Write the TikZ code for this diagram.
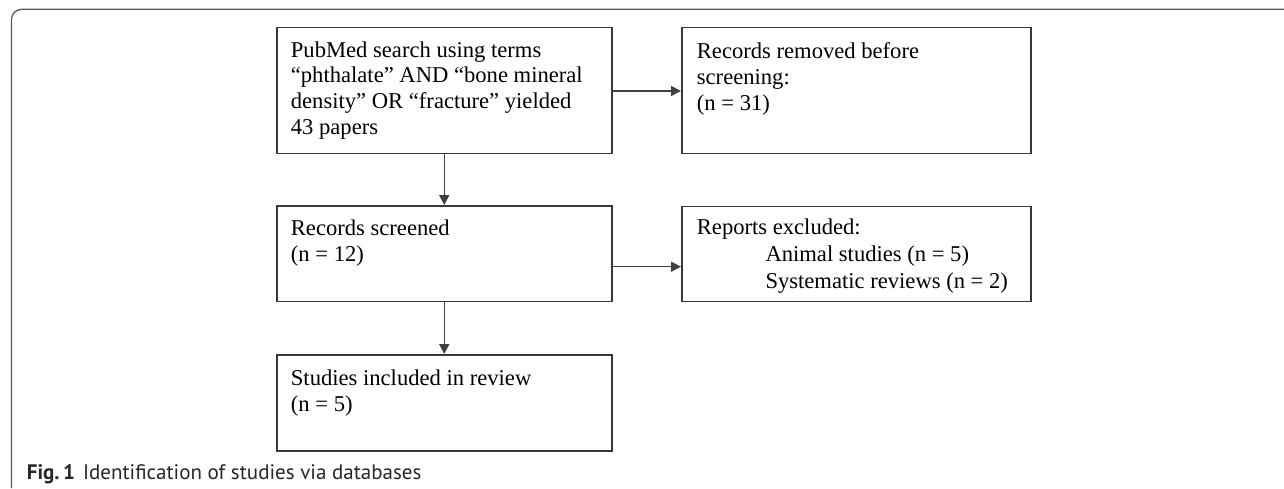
\documentclass[tikz,border=0pt]{standalone}
\usepackage{fontspec}
\setmainfont{Liberation Serif}
\newfontfamily\capfont{PT Sans}
\usetikzlibrary{arrows.meta,calc}
\begin{document}
\begin{tikzpicture}[x=1pt,y=-1pt,
  box/.style={draw=black!78, line width=1.5pt, rectangle, inner sep=0pt, anchor=north west},
  txt/.style={anchor=north west, inner sep=0pt, align=left, text=black, font=\fontsize{22.6}{25.8}\selectfont},
  arr/.style={draw=black!75, line width=1.5pt, -{Triangle[length=10pt,width=10pt]}},
  frame/.style={draw=black!65, line width=1.3pt, rounded corners=10pt}
]
\useasboundingbox (0,0) rectangle (1284,488);
\draw[frame] (11.5,488) -- (11.5,9.3) -- (1284,9.3);

\node[box, minimum width=335pt, minimum height=126pt] (b1) at (276,26.5) {};
\node[box, minimum width=349pt, minimum height=126pt] (b2) at (681,26.5) {};
\node[box, minimum width=335pt, minimum height=95.5pt] (b3) at (276,205) {};
\node[box, minimum width=349pt, minimum height=95pt] (b4) at (681,205.5) {};
\node[box, minimum width=335pt, minimum height=96pt] (b5) at (276,354) {};

\node[txt] (t1) at (290.7,41.2) {PubMed search using terms\\``phthalate'' AND ``bone mineral\\density'' OR ``fracture'' yielded\\43 papers};
\node[txt] (t2) at (696.7,42.5) {Records removed before\\screening:\\(n = 31)};
\node[txt] (t3) at (290.7,219.5) {Records screened\\(n = 12)};
\node[txt, font=\fontsize{22.6}{27}\selectfont] (t4) at (696.7,218.5) {Reports excluded:\\\hspace*{68.6pt}Animal studies (n = 5)\\\hspace*{68.6pt}Systematic reviews (n = 2)};
\node[txt] (t5) at (290.7,369.5) {Studies included in review\\(n = 5)};

\coordinate (y1) at (0,91);
\coordinate (y2) at (0,266.7);
\draw[arr] (b1.east |- y1) -- (b2.west |- y1);
\draw[arr] (b3.east |- y2) -- (b4.west |- y2);
\draw[arr] (b1.south) -- (b3.north);
\draw[arr] (b3.south) -- (b5.north);

\node[anchor=base west, inner sep=0pt, text=black!85, font=\capfont\fontsize{21}{24}\selectfont] (cap) at (26.7,479.3) {\textbf{Fig.\,1}\hspace{8pt}Identification of studies via databases};
\end{tikzpicture}
\end{document}
